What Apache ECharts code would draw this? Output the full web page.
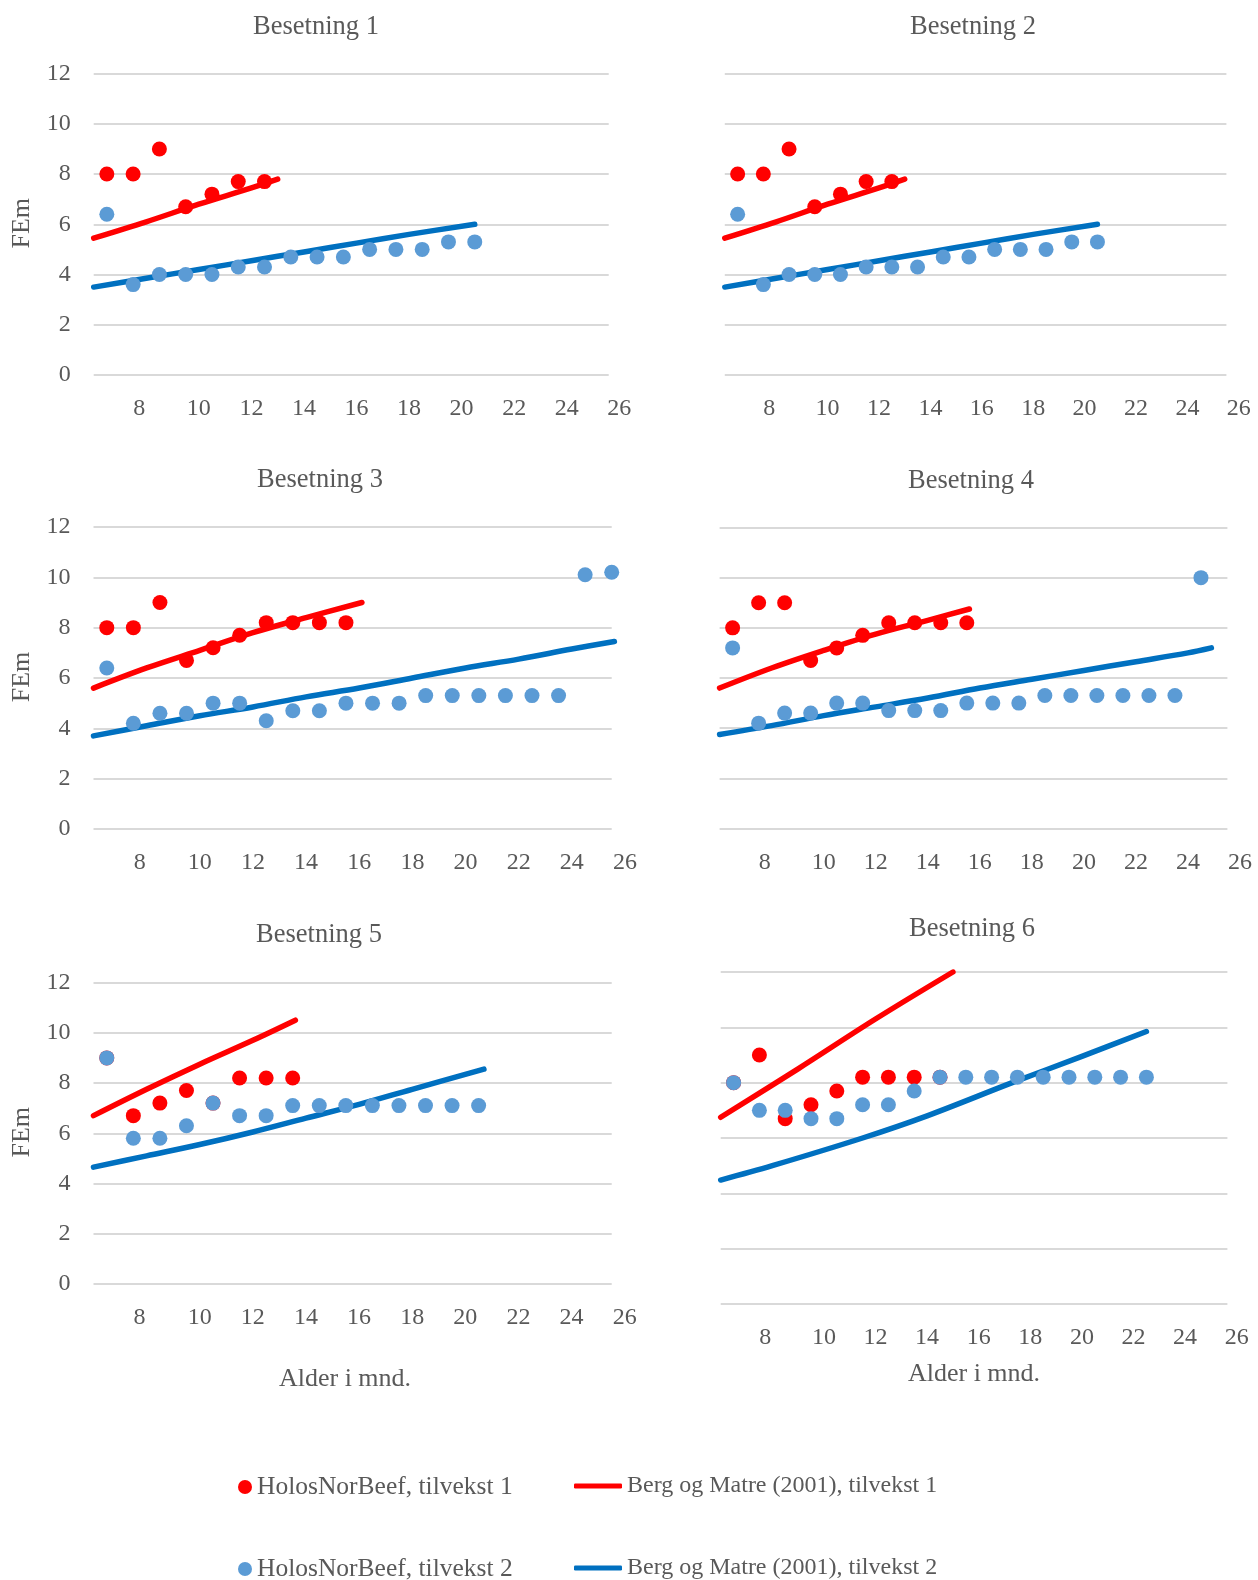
<!DOCTYPE html>
<html>
<head>
<meta charset="utf-8">
<style>
  html, body { margin: 0; padding: 0; background: #ffffff; }
  #chart { width: 1258px; height: 1580px; }
</style>
<script src="https://cdn.jsdelivr.net/npm/echarts@6/dist/echarts.min.js"></script>
</head>
<body>
<div id="chart"></div>
<script>
// ---- Data: feed requirement (FEm) by age in months, six herds ----
const herdTitles = ['Besetning 1', 'Besetning 2', 'Besetning 3', 'Besetning 4', 'Besetning 5', 'Besetning 6'];
const xTicks = [6, 8, 10, 12, 14, 16, 18, 20, 22, 24, 26];
const yTicks = [0, 2, 4, 6, 8, 10, 12];

// Ages (months) at which HolosNorBeef values are given
const ages = [6.5, 7.5, 8.5, 9.5, 10.5, 11.5, 12.5, 13.5, 14.5, 15.5,
              16.5, 17.5, 18.5, 19.5, 20.5, 21.5, 22.5, 23.5, 24.5, 25.5];

// HolosNorBeef, tilvekst 1
const holos1 = [
  [8.0, 8.0, 9.0, 6.7, 7.2, 7.7, 7.7],
  [8.0, 8.0, 9.0, 6.7, 7.2, 7.7, 7.7],
  [8.0, 8.0, 9.0, 6.7, 7.2, 7.7, 8.2, 8.2, 8.2, 8.2],
  [8.0, 9.0, 9.0, 6.7, 7.2, 7.7, 8.2, 8.2, 8.2, 8.2],
  [9.0, 6.7, 7.2, 7.7, 7.2, 8.2, 8.2, 8.2],
  [8.0, 9.0, 6.7, 7.2, 7.7, 8.2, 8.2, 8.2, 8.2]
];

// HolosNorBeef, tilvekst 2
const holos2 = [
  [6.4, 3.6, 4.0, 4.0, 4.0, 4.3, 4.3, 4.7, 4.7, 4.7, 5.0, 5.0, 5.0, 5.3, 5.3],
  [6.4, 3.6, 4.0, 4.0, 4.0, 4.3, 4.3, 4.3, 4.7, 4.7, 5.0, 5.0, 5.0, 5.3, 5.3],
  [6.4, 4.2, 4.6, 4.6, 5.0, 5.0, 4.3, 4.7, 4.7, 5.0, 5.0, 5.0, 5.3, 5.3, 5.3, 5.3, 5.3, 5.3, 10.1, 10.2],
  [7.2, 4.2, 4.6, 4.6, 5.0, 5.0, 4.7, 4.7, 4.7, 5.0, 5.0, 5.0, 5.3, 5.3, 5.3, 5.3, 5.3, 5.3, 10.0],
  [9.0, 5.8, 5.8, 6.3, 7.2, 6.7, 6.7, 7.1, 7.1, 7.1, 7.1, 7.1, 7.1, 7.1, 7.1],
  [8.0, 7.0, 7.0, 6.7, 6.7, 7.2, 7.2, 7.7, 8.2, 8.2, 8.2, 8.2, 8.2, 8.2, 8.2, 8.2, 8.2]
];

// Berg og Matre (2001), tilvekst 1 — [age, FEm]
const berg1 = [
  [[6, 5.45], [8, 6.1], [10, 6.8], [12, 7.45], [13, 7.8]],
  [[6, 5.45], [8, 6.1], [10, 6.8], [12, 7.45], [13, 7.8]],
  [[6, 5.6], [8, 6.4], [10, 7.1], [12, 7.8], [14, 8.4], [16.1, 9.0]],
  [[6, 5.6], [8, 6.4], [10, 7.1], [12, 7.75], [14, 8.3], [15.6, 8.75]],
  [[6, 6.7], [8, 7.75], [10, 8.75], [12, 9.7], [13.6, 10.5]],
  [[6, 6.75], [9, 8.5], [12, 10.3], [15, 12.0]]
];

// Berg og Matre (2001), tilvekst 2 — [age, FEm]
const berg2 = [
  [[6, 3.5], [8, 3.85], [10, 4.2], [12, 4.55], [14, 4.9], [16, 5.25], [18, 5.6], [20.5, 6.0]],
  [[6, 3.5], [8, 3.85], [10, 4.2], [12, 4.55], [14, 4.9], [16, 5.25], [18, 5.6], [20.5, 6.0]],
  [[6, 3.7], [8, 4.1], [10, 4.5], [12, 4.85], [14, 5.25], [16, 5.6], [18, 6.0], [20, 6.4], [22, 6.75], [24, 7.15], [25.6, 7.45]],
  [[6, 3.75], [8, 4.1], [10, 4.5], [12, 4.85], [14, 5.2], [16, 5.6], [18, 5.95], [20, 6.3], [22, 6.65], [24, 7.0], [24.9, 7.2]],
  [[6, 4.65], [8, 5.1], [10, 5.55], [12, 6.05], [14, 6.6], [16, 7.15], [18, 7.75], [20.7, 8.55]],
  [[6, 4.48], [8, 5.0], [11.5, 6.0], [14, 6.8], [17.3, 8.0], [20, 8.95], [22.5, 9.85]]
];

const NAME_H1 = 'HolosNorBeef, tilvekst 1';
const NAME_H2 = 'HolosNorBeef, tilvekst 2';
const NAME_B1 = 'Berg og Matre (2001), tilvekst 1';
const NAME_B2 = 'Berg og Matre (2001), tilvekst 2';

// ---- Layout and styling ----
const FONT = '"Liberation Serif", "Times New Roman", serif';
const TXT = '#595959';
const RED = '#ff0000';
const LIGHT_BLUE = '#5b9bd5';
const DARK_BLUE = '#0070c0';

// Plot rectangles: x0 = age 6, x1 = age 26, gridEnd = where the gridlines stop
const panels = [
  { x0: 93.7,  x1: 619.3,  gridEnd: 608.7,  top: 73.6,  bottom: 375,   yLabels: true,  tx: 316, ty: 27 },
  { x0: 724.8, x1: 1238.8, gridEnd: 1226.4, top: 73.6,  bottom: 375,   yLabels: false, tx: 973, ty: 27 },
  { x0: 93.5,  x1: 625,    gridEnd: 611.7,  top: 527,   bottom: 829,   yLabels: true,  tx: 320, ty: 480 },
  { x0: 719.6, x1: 1240,   gridEnd: 1227.4, top: 527.5, bottom: 828.5, yLabels: false, tx: 971, ty: 481 },
  { x0: 93.5,  x1: 624.7,  gridEnd: 611.7,  top: 982.5, bottom: 1284,  yLabels: true,  tx: 319, ty: 935 },
  { x0: 720.7, x1: 1236.7, gridEnd: 1227.4, top: 972,   bottom: 1304,  yLabels: false, tx: 972, ty: 929 }
];

const grid = [], xAxis = [], yAxis = [], series = [], graphic = [];
const yMin = yTicks[0], yMax = yTicks[yTicks.length - 1];
const xMin = xTicks[0], xMax = xTicks[xTicks.length - 1];

function textEl(x, y, text, size, rotation) {
  return {
    type: 'text', x: x, y: y, rotation: rotation || 0, silent: true,
    style: {
      text: text, font: size + 'px ' + FONT, fill: TXT,
      textAlign: 'center', textVerticalAlign: 'middle', align: 'center', verticalAlign: 'middle'
    }
  };
}

const tickFont = { fontFamily: FONT, fontSize: 24, color: TXT };

panels.forEach(function (p, i) {
  const h = p.bottom - p.top;
  const gFrame = 2 * i, gData = 2 * i + 1;

  // frame grid: horizontal gridlines and FEm tick labels
  grid.push({ left: p.x0, top: p.top, width: p.gridEnd - p.x0, height: h, outerBoundsMode: 'none' });
  xAxis.push({ gridIndex: gFrame, type: 'value', min: xMin, max: xMax, show: false });
  yAxis.push({
    gridIndex: gFrame, type: 'value', min: yMin, max: yMax, interval: 2,
    axisLine: { show: false }, axisTick: { show: false },
    axisLabel: Object.assign({ show: p.yLabels, margin: 23 }, tickFont),
    splitLine: { show: true, lineStyle: { color: '#d9d9d9', width: 2 } }
  });

  // data grid: age axis labels and all marks
  grid.push({ left: p.x0, top: p.top, width: p.x1 - p.x0, height: h, outerBoundsMode: 'none' });
  xAxis.push({
    gridIndex: gData, type: 'value', min: xMin, max: xMax, interval: 2,
    axisLine: { show: false }, axisTick: { show: false }, splitLine: { show: false },
    axisLabel: Object.assign({
      showMinLabel: false, margin: 22, hideOverlap: false,
      // the first age label sits a little left of its tick
      formatter: function (v) { return v === xTicks[1] ? '{first|' + v + '}' : String(v); },
      rich: { first: Object.assign({ padding: [0, 14, 0, 0] }, tickFont) }
    }, tickFont)
  });
  yAxis.push({ gridIndex: gData, type: 'value', min: yMin, max: yMax, interval: 2, show: false });

  const lineStyleOf = function (c) { return { color: c, width: 5.5, cap: 'round', join: 'round' }; };
  series.push({
    type: 'line', name: NAME_B2, xAxisIndex: gData, yAxisIndex: gData,
    data: berg2[i], symbol: 'none', showSymbol: false, silent: true, z: 2, smooth: 0.35,
    lineStyle: lineStyleOf(DARK_BLUE), itemStyle: { color: DARK_BLUE }
  });
  series.push({
    type: 'line', name: NAME_B1, xAxisIndex: gData, yAxisIndex: gData,
    data: berg1[i], symbol: 'none', showSymbol: false, silent: true, z: 2, smooth: 0.35,
    lineStyle: lineStyleOf(RED), itemStyle: { color: RED }
  });
  series.push({
    type: 'scatter', name: NAME_H1, xAxisIndex: gData, yAxisIndex: gData,
    data: holos1[i].map(function (v, k) { return [ages[k], v]; }),
    symbol: 'circle', symbolSize: 15, silent: true, z: 3,
    itemStyle: { color: RED, opacity: 1 }
  });
  series.push({
    type: 'scatter', name: NAME_H2, xAxisIndex: gData, yAxisIndex: gData,
    data: holos2[i].map(function (v, k) { return [ages[k], v]; }),
    symbol: 'circle', symbolSize: 15, silent: true, z: 4,
    itemStyle: { color: LIGHT_BLUE, opacity: 1 }
  });

  graphic.push(textEl(p.tx, p.ty, herdTitles[i], 26.5));
  if (p.yLabels) graphic.push(textEl(22, (p.top + p.bottom) / 2 - 1, 'FEm', 26, Math.PI / 2));
});

graphic.push(textEl(345, 1379, 'Alder i mnd.', 26));
graphic.push(textEl(974, 1374, 'Alder i mnd.', 26));

const legendBase = {
  orient: 'horizontal', selectedMode: false, padding: 0, itemGap: 0
};
const holosText = { fontFamily: FONT, fontSize: 25.5, color: TXT };
const bergText = { fontFamily: FONT, fontSize: 24, color: TXT };
const legend = [
  Object.assign({}, legendBase, { left: 238, top: 1474, icon: 'circle', itemWidth: 14, itemHeight: 14, textStyle: holosText, data: [NAME_H1] }),
  Object.assign({}, legendBase, { left: 574, top: 1474, icon: 'roundRect', itemWidth: 48, itemHeight: 5, textStyle: bergText, data: [NAME_B1] }),
  Object.assign({}, legendBase, { left: 238, top: 1556, icon: 'circle', itemWidth: 14, itemHeight: 14, textStyle: holosText, data: [NAME_H2] }),
  Object.assign({}, legendBase, { left: 574, top: 1556, icon: 'roundRect', itemWidth: 48, itemHeight: 5, textStyle: bergText, data: [NAME_B2] })
];

const chart = echarts.init(document.getElementById('chart'), null, { renderer: 'canvas' });
chart.setOption({
  backgroundColor: '#ffffff',
  animation: false,
  grid: grid, xAxis: xAxis, yAxis: yAxis,
  series: series, legend: legend, graphic: graphic
});
</script>
</body>
</html>
